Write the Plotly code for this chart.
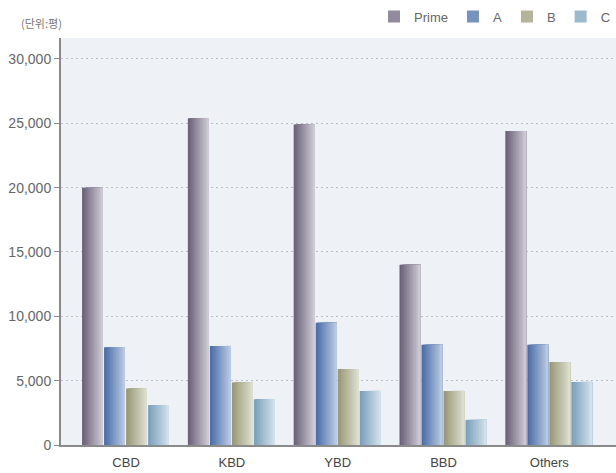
import plotly.graph_objects as go

categories = ["CBD", "KBD", "YBD", "BBD", "Others"]
series_names = ["Prime", "A", "B", "C"]
prime = [20000, 25400, 24900, 14000, 24400]
grade_a = [7600, 7700, 9500, 7800, 7800]
grade_b = [4400, 4850, 5900, 4200, 6450]
grade_c = [3100, 3550, 4200, 1950, 4900]
y_ticks = [0, 5000, 10000, 15000, 20000, 25000, 30000]
unit_label = "(단위:평)"

series_values = [prime, grade_a, grade_b, grade_c]
# gradient endpoints (left dark -> right light)
grad = [
    ("#6b6179", "#cdc9d4"),
    ("#4a6ea8", "#b8c9e2"),
    ("#999876", "#dcdecf"),
    ("#7aa0bb", "#d0e1ea"),
]


def hex2rgb(h):
    h = h.lstrip("#")
    return tuple(int(h[i:i + 2], 16) for i in (0, 2, 4))


def mix(c1, c2, t):
    a, b = hex2rgb(c1), hex2rgb(c2)
    return "rgb(%d,%d,%d)" % tuple(round(a[i] + (b[i] - a[i]) * t) for i in range(3))


group_w = 0.832
bar_w = group_w / 4
inner = bar_w * 0.95
N = 14
fig = go.Figure()
for si, (name, vals) in enumerate(zip(series_names, series_values)):
    base_off = -group_w / 2 + si * bar_w
    sw = inner / N
    for k in range(N):
        t = k / (N - 1)
        fig.add_trace(go.Bar(
            x=categories, y=vals, name=name,
            offset=base_off + k * sw, width=inner - k * sw,
            marker=dict(color=mix(grad[si][0], grad[si][1], t), line=dict(width=0)),
            showlegend=False, hoverinfo="skip",
        ))
    # legend entry
    fig.add_trace(go.Bar(
        x=[None], y=[None], name=name,
        marker=dict(color=mix(grad[si][0], grad[si][1], 0.4), line=dict(width=0)),
        showlegend=True,
    ))

fig.update_layout(
    width=616, height=473,
    margin=dict(l=61, r=0, t=38, b=28),
    paper_bgcolor="white",
    plot_bgcolor="#eef2f6",
    barmode="overlay",
    font=dict(family="Liberation Sans, Arial, sans-serif", size=13, color="#666"),
    legend=dict(orientation="h", x=1.01, xanchor="right", y=0.965, yanchor="middle",
                yref="container", font=dict(size=13, color="#666"),
                itemwidth=30, traceorder="normal", bgcolor="rgba(0,0,0,0)"),
    xaxis=dict(range=[-0.615, 4.63], showgrid=False, showline=True,
               linecolor="#8a8a8a", linewidth=2, ticks="",
               ticklabelstandoff=4,
               tickfont=dict(size=13, color="#444"), fixedrange=True),
    yaxis=dict(range=[0, 31630], tickvals=y_ticks, tickformat=",d",
               showgrid=True, gridcolor="#bcc0c6", griddash="2px,3px", gridwidth=1.3,
               showline=True, linecolor="#8a8a8a", linewidth=2,
               ticks="outside", ticklen=5, tickcolor="#8a8a8a",
               zeroline=False, tickfont=dict(size=14, color="#666")),
    annotations=[dict(text=unit_label, x=-0.075, y=1.038, xref="paper", yref="paper",
                      xanchor="left", yanchor="middle", showarrow=False,
                      font=dict(size=11, color="#777",
                                family="Noto Sans CJK KR, sans-serif"))],
)

fig.write_html("out.html")
